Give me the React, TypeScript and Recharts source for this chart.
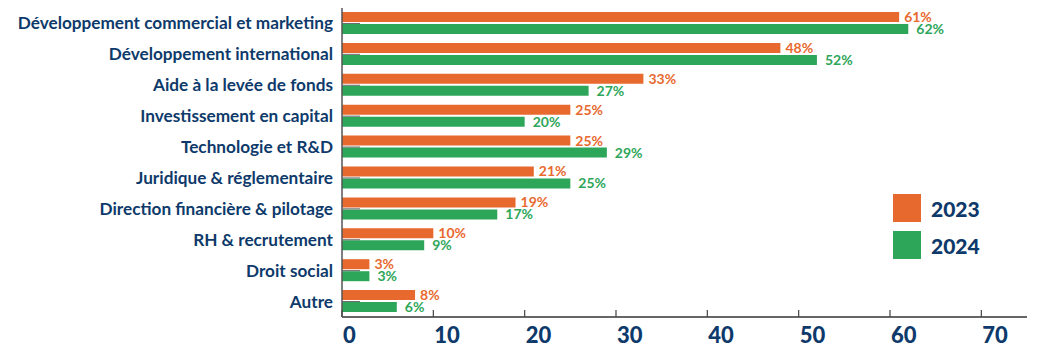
import { Bar, BarChart, XAxis, YAxis, LabelList } from 'recharts'

const categories = [
  'Développement commercial et marketing',
  'Développement international',
  'Aide à la levée de fonds',
  'Investissement en capital',
  'Technologie et R&D',
  'Juridique & réglementaire',
  'Direction financière & pilotage',
  'RH & recrutement',
  'Droit social',
  'Autre',
]
const values2023 = [61, 48, 33, 25, 25, 21, 19, 10, 3, 8]
const values2024 = [62, 52, 27, 20, 29, 25, 17, 9, 3, 6]
const xTicks = [0, 10, 20, 30, 40, 50, 60, 70]
const years = ['2023', '2024']

const ORANGE = '#E8692E'
const GREEN = '#2EA65A'
const NAVY = '#0E3A6B'
const FONT = 'Lato, "Noto Sans", sans-serif'

const data = categories.map((name, i) => ({ name, y2023: values2023[i], y2024: values2024[i] }))

function CategoryTick({ x, y, payload }: any) {
  return (
    <g>
      <line x1={x + 9} x2={x + 27} y1={y} y2={y} stroke="#666" strokeWidth={1} />
      <text x={x} y={y} dy={6} textAnchor="end" fill={NAVY} fontSize={17.2} fontWeight={700} fontFamily={FONT}>
        {payload.value}
      </text>
    </g>
  )
}

function ValueTick({ x, y, payload }: any) {
  return (
    <g>
      <line x1={x} x2={x} y1={y - 7} y2={y} stroke="#444" strokeWidth={1.2} />
      <text x={x + 1} y={y + 26} textAnchor="start" fill={NAVY} fontSize={22} fontWeight={900} fontFamily={FONT}>
        {payload.value}
      </text>
    </g>
  )
}

function YearLegend() {
  const colors = [ORANGE, GREEN]
  return (
    <div style={{ position: 'absolute', left: 893, top: 194, display: 'flex', flexDirection: 'column', gap: 9 }}>
      {years.map((label, i) => (
        <div key={label} style={{ display: 'flex', alignItems: 'center', gap: 10, height: 28 }}>
          <div style={{ width: 28, height: 28, background: colors[i] }} />
          <span style={{ color: NAVY, fontSize: 21, fontWeight: 900, fontFamily: FONT }}>{label}</span>
        </div>
      ))}
    </div>
  )
}

export default function App() {
  return (
    <div style={{ position: 'absolute', left: 0, top: 0, width: 1050, height: 357, background: '#fff' }}>
      <BarChart
        width={1050}
        height={357}
        data={data}
        layout="vertical"
        margin={{ top: 8, right: 23, bottom: 0, left: 0 }}
        barSize={10}
        barGap={2}
      >
        <XAxis
          type="number"
          domain={[0, 75]}
          ticks={xTicks}
          height={40}
          tickSize={0}
          tickMargin={0}
          tickLine={false}
          axisLine={{ stroke: '#333', strokeWidth: 1.5 }}
          tick={<ValueTick />}
          interval={0}
        />
        <YAxis
          type="category"
          dataKey="name"
          width={342}
          tickSize={0}
          tickMargin={9}
          tickLine={false}
          axisLine={{ stroke: '#555', strokeWidth: 1.5 }}
          tick={<CategoryTick />}
          interval={0}
        />
        <Bar dataKey="y2023" name={years[0]} fill={ORANGE} isAnimationActive={false}>
          <LabelList
            dataKey="y2023"
            position="right"
            offset={5}
            formatter={(v: any) => `${v}%`}
            fill={ORANGE}
            fontSize={14}
            fontWeight={700}
            fontFamily={FONT}
          />
        </Bar>
        <Bar dataKey="y2024" name={years[1]} fill={GREEN} isAnimationActive={false}>
          <LabelList
            dataKey="y2024"
            position="right"
            offset={8}
            formatter={(v: any) => `${v}%`}
            fill={GREEN}
            fontSize={14}
            fontWeight={700}
            fontFamily={FONT}
          />
        </Bar>
      </BarChart>
      <YearLegend />
    </div>
  )
}
